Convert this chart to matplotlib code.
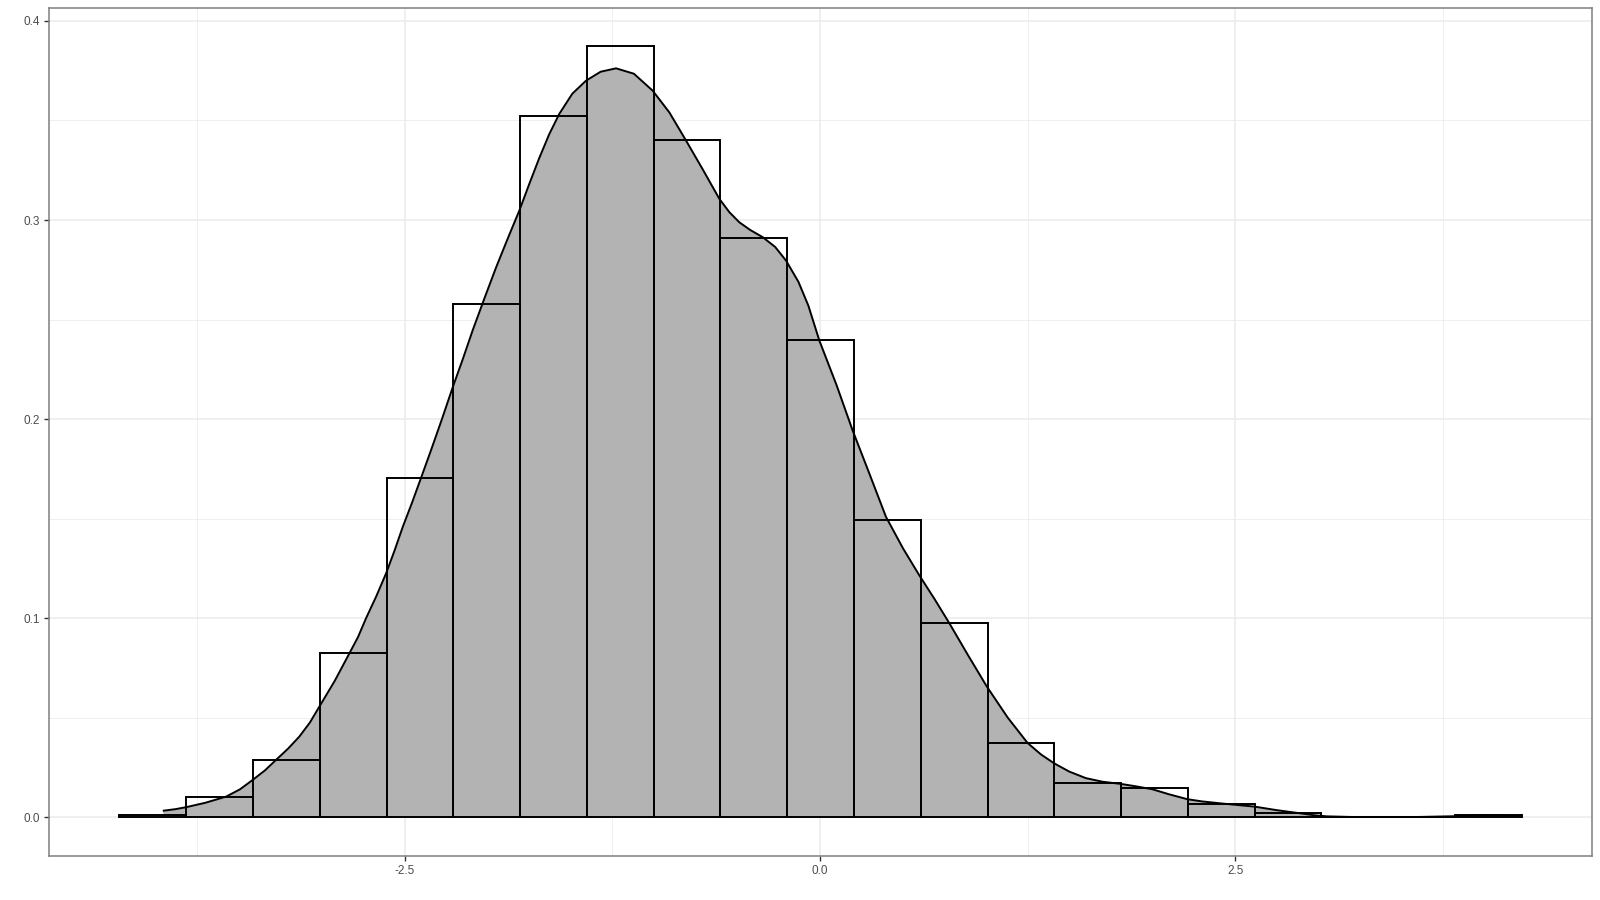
import matplotlib
matplotlib.use("Agg")
import matplotlib.pyplot as plt
from matplotlib.ticker import MultipleLocator

plt.rcParams['font.family'] = ['Liberation Sans', 'DejaVu Sans']

# histogram bins (edges) and densities
bin_edges = [-4.216, -3.814, -3.412, -3.010, -2.608, -2.207, -1.805, -1.403,
             -1.001, -0.599, -0.197, 0.205, 0.607, 1.009, 1.411, 1.813,
             2.214, 2.616, 3.018, 3.420, 3.822, 4.224]
bar_heights = [0.0010, 0.0103, 0.0288, 0.0825, 0.1704, 0.2578, 0.3525, 0.3873,
               0.3403, 0.2912, 0.2395, 0.1494, 0.0977, 0.0373, 0.0174, 0.0144,
               0.0068, 0.0020, 0.0, 0.0, 0.0010]

# kernel density curve
dens_x = [-3.955, -3.880, -3.815, -3.700, -3.574, -3.490, -3.414, -3.340, -3.273,
          -3.200, -3.133, -3.070, -3.013, -2.920, -2.832, -2.780, -2.732, -2.670,
          -2.611, -2.560, -2.511, -2.455, -2.401, -2.341, -2.275, -2.210, -2.150,
          -2.090, -2.020, -1.950, -1.880, -1.809, -1.750, -1.690, -1.630, -1.569,
          -1.490, -1.408, -1.320, -1.227, -1.120, -1.007, -0.906, -0.806, -0.706,
          -0.606, -0.546, -0.486, -0.420, -0.345, -0.270, -0.205, -0.130, -0.070,
          -0.004, 0.100, 0.196, 0.300, 0.397, 0.500, 0.597, 0.690, 0.778, 0.890,
          1.005, 1.130, 1.249, 1.330, 1.408, 1.500, 1.600, 1.700, 1.811, 1.900,
          2.001, 2.100, 2.212, 2.300, 2.402, 2.500, 2.615, 2.750, 2.884, 2.970,
          3.050, 3.200, 3.400, 3.600, 3.840, 4.000, 4.224]
dens_y = [0.0032, 0.0040, 0.0050, 0.0072, 0.0103, 0.0140, 0.0187, 0.0235, 0.0288,
          0.0345, 0.0405, 0.0475, 0.0555, 0.0685, 0.0823, 0.0905, 0.0999, 0.1110,
          0.1225, 0.1340, 0.1458, 0.1580, 0.1704, 0.1843, 0.2000, 0.2160, 0.2300,
          0.2446, 0.2605, 0.2760, 0.2905, 0.3048, 0.3180, 0.3310, 0.3430, 0.3533,
          0.3635, 0.3700, 0.3745, 0.3762, 0.3735, 0.3650, 0.3540, 0.3399, 0.3255,
          0.3107, 0.3040, 0.2989, 0.2950, 0.2914, 0.2865, 0.2797, 0.2690, 0.2570,
          0.2395, 0.2170, 0.1944, 0.1720, 0.1509, 0.1350, 0.1216, 0.1095, 0.0975,
          0.0815, 0.0655, 0.0500, 0.0373, 0.0315, 0.0271, 0.0229, 0.0196, 0.0178,
          0.0167, 0.0155, 0.0140, 0.0115, 0.0090, 0.0079, 0.0070, 0.0062, 0.0053,
          0.0035, 0.0020, 0.0010, 0.0004, 0.0001, 0.0001, 0.0001, 0.0005, 0.0009,
          0.0006]

x_major = [-2.5, 0.0, 2.5]
x_labels = ["-2.5", "0.0", "2.5"]
y_major = [0.0, 0.1, 0.2, 0.3, 0.4]
y_labels = ["0.0", "0.1", "0.2", "0.3", "0.4"]

fig = plt.figure(figsize=(16, 9), dpi=100)
ax = fig.add_axes([49.3 / 1600, 1 - 855.7 / 900, (1592 - 49.3) / 1600, (855.7 - 7.7) / 900])

# density fill
ax.fill_between(dens_x, 0, dens_y, color="#B3B3B3", linewidth=0, zorder=2)

# histogram bars (outline only)
widths = [bin_edges[i + 1] - bin_edges[i] for i in range(len(bar_heights))]
ax.bar(bin_edges[:-1], bar_heights, width=widths, align="edge",
       facecolor="none", edgecolor="black", linewidth=1.4, zorder=3)

# density line
ax.plot(dens_x, dens_y, color="black", linewidth=1.4, zorder=4,
        solid_capstyle="butt", solid_joinstyle="round")

# limits with ggplot-like expansion
xmin, xmax = bin_edges[0], bin_edges[-1]
xr = xmax - xmin
ax.set_xlim(xmin - 0.05 * xr, xmax + 0.05 * xr)
ymax = max(bar_heights)
ax.set_ylim(-0.05 * ymax, ymax * 1.05)

ax.set_xticks(x_major)
ax.set_xticklabels(x_labels)
ax.set_yticks(y_major)
ax.set_yticklabels(y_labels)
ax.xaxis.set_minor_locator(MultipleLocator(1.25))
ax.yaxis.set_minor_locator(MultipleLocator(0.05))

ax.grid(which="major", color="#EBEBEB", linewidth=1.1, zorder=0)
ax.grid(which="minor", color="#EBEBEB", linewidth=0.55, zorder=0)
ax.set_axisbelow(True)

ax.tick_params(which="major", length=3.5, width=1.0, color="#333333",
               labelsize=8.5, labelcolor="#4D4D4D", pad=3)
ax.tick_params(which="minor", length=0)

for s in ax.spines.values():
    s.set_color("#7F7F7F")
    s.set_linewidth(1.1)

fig.savefig("out.png", dpi=100)
